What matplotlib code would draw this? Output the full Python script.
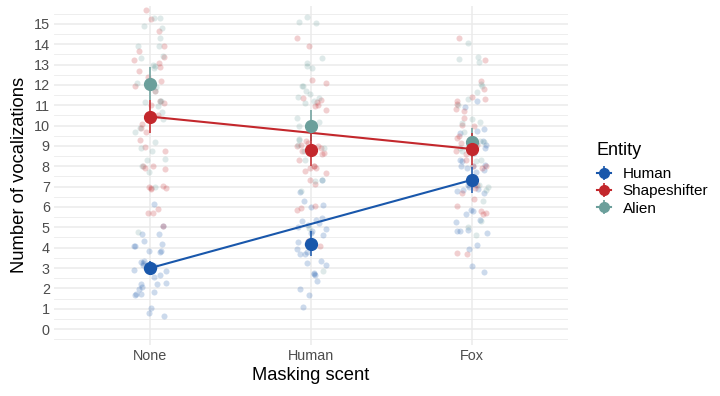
import numpy as np
import matplotlib
matplotlib.use("Agg")
import matplotlib.pyplot as plt
from matplotlib.lines import Line2D
from matplotlib.legend_handler import HandlerTuple

plt.rcParams['font.family'] = ['Liberation Sans', 'DejaVu Sans']

scents = ['None', 'Human', 'Fox']
entities = ['Human', 'Shapeshifter', 'Alien']
colors = {'Human': '#1957ab', 'Shapeshifter': '#c3272c', 'Alien': '#6b9f9b'}

# group means and error bar half widths (None, Human, Fox)
means = {
    'Human': [3.0, 4.2, 7.33],
    'Shapeshifter': [10.44, 8.82, 8.85],
    'Alien': [12.06, 10.0, 9.18],
}
errs = {
    'Human': [0.35, 0.6, 0.65],
    'Shapeshifter': [0.82, 0.8, 0.8],
    'Alien': [0.82, 0.78, 0.72],
}

# raw observations as read from the jittered cloud
obs_none_human = [6.15, 5.05, 4.68, 4.66, 4.35, 4.2, 4.07, 3.86, 3.8, 3.86, 3.34, 3.26, 3.17,
                  3.09, 3.01, 2.93, 2.85, 2.68, 2.55, 2.28, 2.19, 1.95, 1.82, 1.74, 1.65, 1.02,
                  0.77, 0.64, 3.1, 2.95, 3.2, 2.05, 4.1, 3.3, 2.2, 1.7, 3.0, 2.9]
obs_none_shape = [15.7, 15.25, 14.65, 13.9, 13.65, 13.35, 13.2, 13.1, 12.9, 12.66, 12.37, 12.2,
                  11.96, 11.7, 11.2, 11.03, 10.5, 10.1, 9.9, 9.67, 9.3, 8.93, 8.73, 8.0, 7.92,
                  8.0, 7.88, 7.0, 6.93, 6.95, 6.9, 7.02, 5.9, 5.72, 5.68, 5.05, 10.3, 11.1]
obs_none_alien = [15.28, 15.3, 14.9, 14.8, 14.3, 13.92, 13.93, 13.4, 13.3, 13.0, 12.94, 12.83,
                  12.1, 11.9, 11.7, 11.2, 11.2, 11.14, 10.95, 10.67, 10.3, 9.88, 9.67, 9.2,
                  8.9, 8.77, 8.37, 8.32, 8.0, 7.72, 6.97, 4.76]
obs_human_human = [7.35, 6.74, 6.31, 6.12, 5.99, 5.46, 5.38, 5.22, 5.0, 4.8, 4.72, 4.64, 4.18,
                   4.15, 3.91, 3.8, 3.7, 3.67, 3.34, 3.26, 3.17, 2.76, 2.72, 2.68, 2.36, 1.95,
                   1.65, 1.08, 5.1, 4.3, 4.9, 5.3]
obs_human_shape = [14.3, 13.92, 12.25, 12.09, 11.36, 11.27, 11.16, 11.0, 10.95, 10.78, 9.23,
                   9.14, 9.06, 8.98, 8.74, 8.66, 8.58, 8.3, 8.0, 7.92, 8.0, 7.92, 7.75, 7.67,
                   7.35, 7.13, 6.03, 5.95, 5.87, 4.35, 4.07, 8.9, 9.0]
obs_human_alien = [15.36, 15.08, 15.03, 13.3, 13.1, 12.94, 12.83, 11.93, 11.93, 11.72, 11.55,
                   11.39, 11.36, 11.19, 11.1, 10.37, 10.17, 9.96, 9.35, 9.3, 9.06, 8.9, 8.74,
                   8.3, 7.35, 7.26, 6.8, 4.97, 2.85]
obs_fox_human = [11.19, 10.89, 9.85, 9.72, 9.64, 9.23, 9.06, 8.9, 8.66, 8.32, 8.24, 8.08, 8.0,
                 7.99, 7.84, 7.72, 7.26, 7.07, 6.97, 6.85, 6.77, 6.69, 5.87, 5.79, 5.66, 5.38,
                 5.27, 4.89, 4.84, 4.8, 4.72, 4.15, 3.91, 3.09, 2.81, 7.9, 7.1, 6.9]
obs_fox_shape = [14.3, 13.2, 12.2, 11.78, 11.39, 11.33, 11.19, 11.06, 10.83, 10.7, 10.37,
                 10.01, 9.96, 9.39, 9.23, 9.14, 9.03, 8.77, 8.32, 8.0, 7.99, 7.92, 7.07, 6.93,
                 6.69, 6.41, 6.03, 5.79, 5.71, 5.63, 3.75, 3.67, 8.6, 9.5]
obs_fox_alien = [14.05, 13.35, 13.27, 13.12, 12.04, 11.93, 11.65, 11.33, 11.03, 10.3, 10.17,
                 10.13, 9.68, 9.3, 9.23, 9.2, 8.9, 8.74, 8.32, 8.24, 7.1, 6.97, 6.85, 6.28,
                 5.3, 5.0, 4.64]

obs = {
    'Human': [obs_none_human, obs_human_human, obs_fox_human],
    'Shapeshifter': [obs_none_shape, obs_human_shape, obs_fox_shape],
    'Alien': [obs_none_alien, obs_human_alien, obs_fox_alien],
}

fig = plt.figure(figsize=(7.2, 3.96), dpi=100)
ax = fig.add_axes([0.075, 0.129, 0.714, 0.857])

# gridlines like theme_minimal
ax.set_ylim(-0.78, 15.9)
ax.set_xlim(-0.6, 2.6)
ax.set_yticks(range(16))
ax.set_yticks(np.arange(-0.5, 16, 1.0), minor=True)
ax.set_xticks(range(len(scents)))
ax.set_xticklabels(scents)
ax.grid(True, which='major', color='#ebebeb', linewidth=1.1)
ax.grid(True, which='minor', axis='y', color='#ebebeb', linewidth=0.6)
ax.set_axisbelow(True)
for s in ax.spines.values():
    s.set_visible(False)
ax.tick_params(which='both', length=0, labelsize=10.4, labelcolor='#4d4d4d', pad=3)

# jittered raw points (horizontal jitter only, like geom_jitter)
rng = np.random.default_rng(7)
for ent in entities:
    for i, vals in enumerate(obs[ent]):
        xs = i + rng.uniform(-0.1, 0.1, len(vals))
        ax.scatter(xs, vals, s=19, color=colors[ent], alpha=0.22, linewidths=0, zorder=2)

# lines between None and Fox
for ent in ['Human', 'Shapeshifter']:
    ax.plot([0, 2], [means[ent][0], means[ent][2]], color=colors[ent], lw=1.5, zorder=3)

# means with error bars
x = np.arange(len(scents))
for ent in ['Alien', 'Shapeshifter', 'Human']:
    ax.errorbar(x, means[ent], yerr=errs[ent], fmt='o', color=colors[ent],
                markersize=8.5, elinewidth=1.1, capsize=0, zorder=4)

ax.set_xlabel('Masking scent', fontsize=13.2, labelpad=3)
ax.set_ylabel('Number of vocalizations', fontsize=13.2, labelpad=4)

handles = []
for ent in entities:
    h_line = Line2D([], [], color=colors[ent], lw=1.5)
    h_v = Line2D([], [], color=colors[ent], marker='|', markersize=10, markeredgewidth=1.2, lw=0)
    h_pt = Line2D([], [], color=colors[ent], marker='o', markersize=7, lw=0)
    handles.append((h_line, h_v, h_pt))
leg = fig.legend(handles, entities, title='Entity', loc='upper left',
                 bbox_to_anchor=(0.812, 0.672), frameon=False, fontsize=11,
                 title_fontsize=13, handlelength=0.9, handletextpad=0.8,
                 labelspacing=0.2, borderpad=0.3,
                 handler_map={tuple: HandlerTuple(ndivide=1)})
leg._legend_box.align = 'left'
leg._legend_box.sep = 6

fig.savefig('out.png', dpi=100)
